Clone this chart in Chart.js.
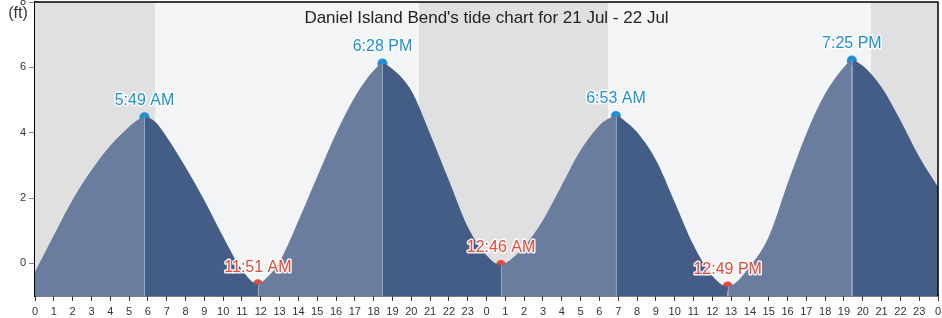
<!DOCTYPE html>
<html><head><meta charset="utf-8">
<script src="https://cdn.jsdelivr.net/npm/chart.js@4/dist/chart.umd.min.js"></script>
<style>html,body{margin:0;padding:0;background:#fff}#wrap{width:942px;height:318px;position:relative}</style>
</head><body><div id="wrap"><canvas id="c"></canvas></div>
<script>
// ---- data ----
const curveHours   = [0,1,2,3,4,5,5.3,5.82,6.4,7,8,9,10,11,11.85,12,13,14,15,16,17,18,18.47,19,20,21,22,23,24,24.77,25,26,27,28,29,30,30.4,30.88,31.5,32,33,34,35,36,36.82,38,39,40,41,42,43,43.42,44,45,46,47,48];
const curveHeights = [-0.26,0.86,1.95,2.85,3.6,4.18,4.33,4.47,4.33,3.87,2.95,1.93,0.81,-0.2,-0.64,-0.6,0.05,1.3,2.65,3.97,5.09,5.9,6.12,5.95,5.29,3.97,2.54,1.12,0.25,-0.05,0.0,0.51,1.32,2.39,3.46,4.22,4.4,4.51,4.29,4.02,3.17,1.88,0.56,-0.38,-0.71,-0.1,0.81,2.44,3.97,5.19,6.0,6.21,6.05,5.39,4.38,3.26,2.34];
const extremeHours   = [5.82,11.85,18.47,24.77,30.88,36.82,43.42];
const extremeHeights = [4.47,-0.64,6.12,-0.05,4.51,-0.71,6.21];
const extremeLabels  = ["5:49 AM","11:51 AM","6:28 PM","12:46 AM","6:53 AM","12:49 PM","7:25 PM"];
const extremeKinds   = ["H","L","H","L","H","L","H"];
const nightBands     = [[0,6.38],[20.41,30.46],[44.44,48]];
const xTickValues    = [0,1,2,3,4,5,6,7,8,9,10,11,12,13,14,15,16,17,18,19,20,21,22,23,24,25,26,27,28,29,30,31,32,33,34,35,36,37,38,39,40,41,42,43,44,45,46,47,48];
const xTickLabels    = ["0","1","2","3","4","5","6","7","8","9","10","11","12","13","14","15","16","17","18","19","20","21","22","23","0","1","2","3","4","5","6","7","8","9","10","11","12","13","14","15","16","17","18","19","20","21","22","23","0"];
const yTickValues    = [0,2,4,6,8];
const titleText = "Daniel Island Bend's tide chart for 21 Jul - 22 Jul";
const unitText = "(ft)";

// ---- styles ----
const RISE = 'rgb(106,125,158)', FALL = 'rgb(68,93,134)';
const DAY = 'rgb(243,244,246)', NIGHT = 'rgb(224,224,224)';
const HIGHC = 'rgb(32,144,214)', LOWC = 'rgb(230,76,60)';
const FONT = "'Liberation Sans', Arial, sans-serif";

const curve = curveHours.map((h,i)=>({x:h,y:curveHeights[i]}));
const extremes = extremeHours.map((h,i)=>({x:h,y:extremeHeights[i]}));

const bgPlugin = {
  id:'bg',
  beforeDatasetsDraw(chart){
    const {ctx, chartArea:a, scales:{x}} = chart;
    ctx.save();
    ctx.fillStyle = DAY;
    ctx.fillRect(a.left, a.top, a.right-a.left, a.bottom-a.top);
    ctx.fillStyle = NIGHT;
    nightBands.forEach(([s,e])=>{
      const x0 = x.getPixelForValue(s), x1 = x.getPixelForValue(e);
      ctx.fillRect(x0, a.top, x1-x0, a.bottom-a.top);
    });
    ctx.restore();
  },
  afterDatasetDraw(chart, args){
    if(args.index !== 0) return;
    const {ctx, chartArea:a, scales:{x,y}} = chart;
    ctx.save();
    ctx.strokeStyle = 'rgba(150,165,192,0.9)';
    ctx.lineWidth = 1;
    extremeHours.forEach((h,i)=>{
      const px = Math.round(x.getPixelForValue(h))+0.5;
      ctx.beginPath();
      ctx.moveTo(px, a.bottom);
      ctx.lineTo(px, y.getPixelForValue(extremeHeights[i]));
      ctx.stroke();
    });
    ctx.restore();
  },
  afterDatasetsDraw(chart){
    const {ctx, chartArea:a, scales:{x,y}} = chart;
    ctx.save();
    ctx.font = "16px " + FONT;
    ctx.textAlign = 'center';
    ctx.textBaseline = 'middle';
    ctx.lineJoin = 'round';
    extremeHours.forEach((h,i)=>{
      const px = x.getPixelForValue(h), py = y.getPixelForValue(extremeHeights[i]) - 17;
      ctx.strokeStyle = 'rgba(255,255,255,0.9)';
      ctx.lineWidth = 3;
      ctx.strokeText(extremeLabels[i], px, py);
      ctx.fillStyle = extremeKinds[i]==='H' ? HIGHC : LOWC;
      ctx.fillText(extremeLabels[i], px, py);
    });
    ctx.font = "17px " + FONT;
    ctx.fillStyle = '#222';
    ctx.fillText(titleText, (a.left+a.right)/2, 18);
    ctx.font = "16px " + FONT;
    ctx.fillStyle = '#333';
    ctx.fillText(unitText, 18, 14);
    ctx.strokeStyle = '#000';
    ctx.lineWidth = 1.5;
    ctx.beginPath();
    ctx.moveTo(a.left, a.top); ctx.lineTo(a.right, a.top); ctx.lineTo(a.right, a.bottom);
    ctx.stroke();
    ctx.restore();
  }
};

new Chart(document.getElementById('c'), {
  type:'line',
  data:{datasets:[
    {data:curve, fill:'start', borderColor:'rgba(0,0,0,0)', borderWidth:0, pointRadius:0,
     cubicInterpolationMode:'monotone',
     segment:{backgroundColor: c => c.p1.parsed.y >= c.p0.parsed.y ? RISE : FALL},
     backgroundColor:RISE},
    {type:'scatter', data:extremes, showLine:false, pointRadius:5, pointHoverRadius:5, borderWidth:0,
     clip:false,
     pointBackgroundColor: extremeKinds.map(k=>k==='H'?HIGHC:LOWC),
     pointBorderColor: extremeKinds.map(k=>k==='H'?HIGHC:LOWC)}
  ]},
  options:{
    responsive:true, maintainAspectRatio:false, animation:false,
    events:[],
    layout:{autoPadding:false, padding:{top:2,right:4,left:0,bottom:0}},
    plugins:{legend:{display:false}, tooltip:{enabled:false}, title:{display:false}},
    scales:{
      x:{type:'linear', min:0, max:48,
         afterFit(s){ s.height = 22; s.paddingLeft = 0; s.paddingRight = 0; },
         afterBuildTicks(s){ s.ticks = xTickValues.map(v=>({value:v})); },
         ticks:{autoSkip:false, maxRotation:0, padding:4, color:'#333', font:{family:FONT, size:11},
                callback:(v,i)=>xTickLabels[i]},
         grid:{drawOnChartArea:false, drawTicks:true, tickLength:5, color:'#333'},
         border:{display:true, color:'#000', width:1.5}},
      y:{type:'linear', min:-1, max:8,
         afterFit(s){ s.width = 35; s.paddingTop = 0; s.paddingBottom = 0; },
         afterBuildTicks(s){ s.ticks = yTickValues.map(v=>({value:v})); },
         ticks:{padding:3, color:'#333', font:{family:FONT, size:11}},
         grid:{drawOnChartArea:false, drawTicks:true, tickLength:6, color:'#888'},
         border:{display:true, color:'#000', width:1.5}}
    }
  },
  plugins:[bgPlugin]
});
</script></body></html>
